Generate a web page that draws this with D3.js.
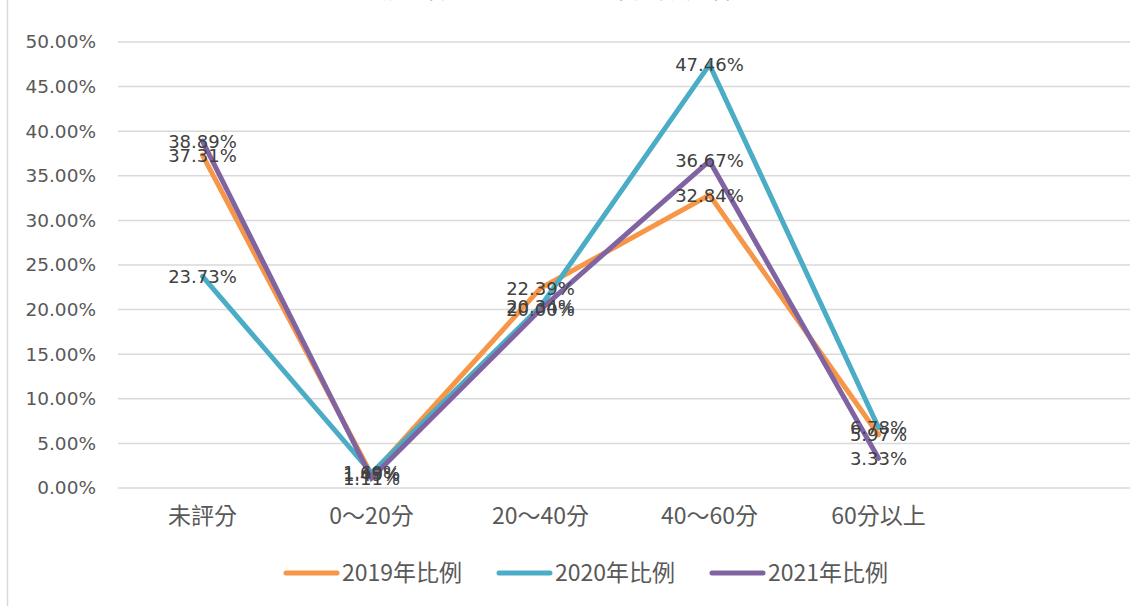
<!DOCTYPE html>
<html>
<head>
<meta charset="utf-8">
<script src="https://cdn.jsdelivr.net/npm/d3@7"></script>
<style>
  body { margin: 0; background: #fff; }
  svg { display: block; }
</style>
</head>
<body>
<script>
const categories = ['未評分', '0～20分', '20～40分', '40～60分', '60分以上', ''];
const seriesNames = ['2019年比例', '2020年比例', '2021年比例'];
const values2019 = [0.3731, 0.0149, 0.2239, 0.3284, 0.0597];
const values2020 = [0.2373, 0.0169, 0.2034, 0.4746, 0.0678];
const values2021 = [0.3889, 0.0111, 0.2000, 0.3667, 0.0333];
const yTicks = [0, 0.05, 0.10, 0.15, 0.20, 0.25, 0.30, 0.35, 0.40, 0.45, 0.50];
const colors = ['#f79646', '#4bacc6', '#8064a2'];

const width = 1147, height = 606;
const plot = { left: 118, right: 1132, top: 42, bottom: 488 };

const svg = d3.select('body').append('svg')
    .attr('width', width)
    .attr('height', height);

svg.append('rect')
    .attr('width', width)
    .attr('height', height)
    .attr('fill', '#fff');

// chart area border (left edge is the only part in view)
svg.append('line')
    .attr('x1', 7.5).attr('x2', 7.5)
    .attr('y1', 0).attr('y2', height)
    .attr('stroke', '#d9d9d9')
    .attr('stroke-width', 1.5);

// title, mostly cut off by the top edge
svg.append('text')
    .attr('x', 575)
    .attr('y', -2)
    .attr('text-anchor', 'middle')
    .attr('font-family', '"Noto Sans CJK TC", sans-serif')
    .attr('font-size', 26)
    .attr('fill', '#8c8c8c')
    .text('投資評分2019～2021年分數分佈比例');

const x = d3.scaleBand()
    .domain(categories)
    .range([plot.left, plot.right])
    .padding(0);

const y = d3.scaleLinear()
    .domain([0, 0.5])
    .range([plot.bottom, plot.top]);

const fmt = d3.format('.2%');

// gridlines
svg.append('g')
    .selectAll('line')
    .data(yTicks)
    .join('line')
    .attr('x1', plot.left)
    .attr('x2', 1130)
    .attr('y1', d => y(d))
    .attr('y2', d => y(d))
    .attr('stroke', '#d9d9d9')
    .attr('stroke-width', 1.5);

// y axis labels
const yAxis = svg.append('g')
    .attr('transform', `translate(${plot.left},0)`)
    .call(d3.axisLeft(y).tickValues(yTicks).tickFormat(fmt).tickSize(0).tickPadding(22));
yAxis.select('.domain').remove();
yAxis.selectAll('text')
    .attr('font-family', '"DejaVu Sans", sans-serif')
    .attr('font-size', 18.5)
    .attr('fill', '#595959');

// x axis labels
const xAxis = svg.append('g')
    .attr('transform', `translate(0,${plot.bottom})`)
    .call(d3.axisBottom(x).tickSize(0).tickPadding(20));
xAxis.select('.domain').remove();
xAxis.selectAll('text')
    .attr('font-family', '"Noto Sans CJK TC", sans-serif')
    .attr('font-size', 23)
    .attr('fill', '#595959');

const series = [values2019, values2020, values2021].map((vals, i) => ({
    name: seriesNames[i],
    color: colors[i],
    points: vals.map((v, j) => ({ cat: categories[j], v }))
}));

const line = d3.line()
    .x(d => x(d.cat) + x.bandwidth() / 2)
    .y(d => y(d.v));

svg.append('g')
    .selectAll('path')
    .data(series)
    .join('path')
    .attr('d', d => line(d.points))
    .attr('fill', 'none')
    .attr('stroke', d => d.color)
    .attr('stroke-width', 5)
    .attr('stroke-linecap', 'round');

// data labels, centred on the points
const labels = svg.append('g');
series.forEach(s => {
    labels.selectAll(null)
        .data(s.points)
        .join('text')
        .attr('x', d => x(d.cat) + x.bandwidth() / 2)
        .attr('y', d => y(d.v))
        .attr('dy', '0.36em')
        .attr('text-anchor', 'middle')
        .attr('font-family', '"DejaVu Sans", sans-serif')
        .attr('font-size', 18)
        .attr('fill', '#404040')
        .text(d => fmt(d.v));
});

// legend
const legendX = [284, 497, 710];
const legend = svg.append('g')
    .selectAll('g')
    .data(series)
    .join('g')
    .attr('transform', (d, i) => `translate(${legendX[i]},573)`);

legend.append('line')
    .attr('x1', 2).attr('x2', 53)
    .attr('stroke', d => d.color)
    .attr('stroke-width', 5)
    .attr('stroke-linecap', 'round');

legend.append('text')
    .attr('x', 58)
    .attr('dy', '0.36em')
    .attr('font-family', '"Noto Sans CJK TC", sans-serif')
    .attr('font-size', 23)
    .attr('fill', '#595959')
    .text(d => d.name);
</script>
</body>
</html>
